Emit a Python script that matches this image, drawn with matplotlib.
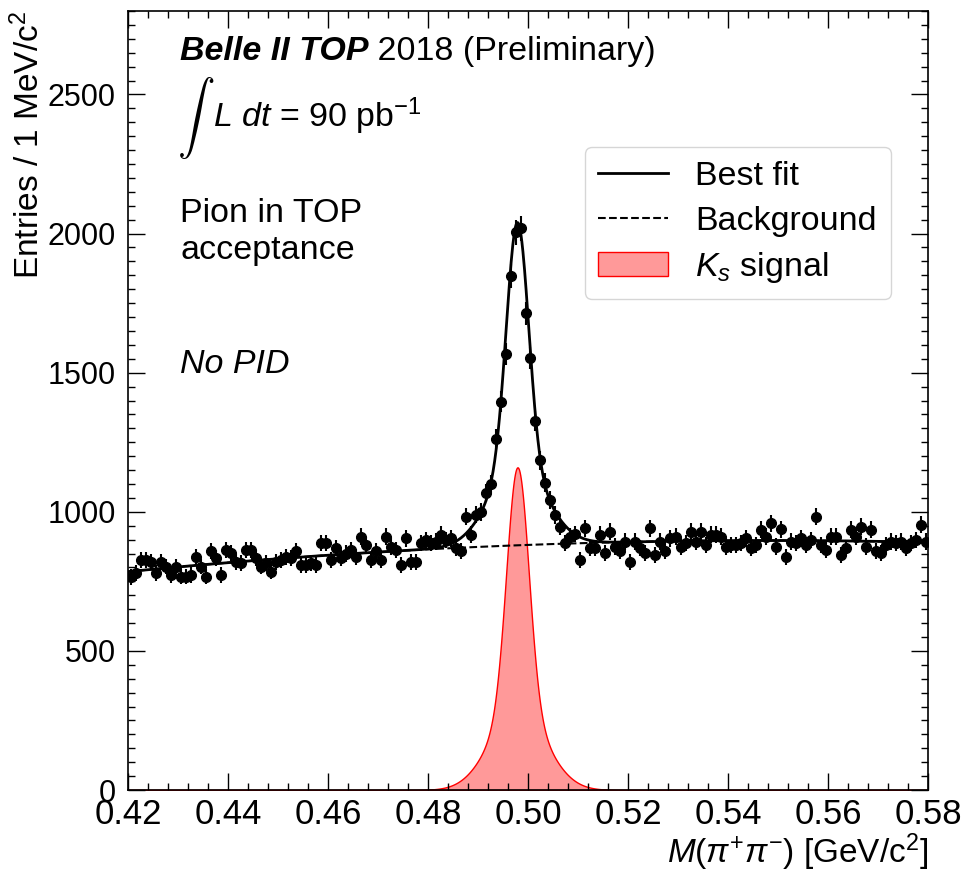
import numpy as np
import matplotlib
matplotlib.use("Agg")
import matplotlib.pyplot as plt

plt.rcParams["font.family"] = ["Liberation Sans", "DejaVu Sans"]
plt.rcParams["mathtext.fontset"] = "custom"
plt.rcParams["mathtext.rm"] = "Liberation Sans"
plt.rcParams["mathtext.it"] = "Liberation Sans:italic"
plt.rcParams["mathtext.bf"] = "Liberation Sans:bold"

# Histogram binning: 1 MeV bins between 0.42 and 0.58 GeV
x_lo, x_hi, bin_w = 0.42, 0.58, 0.001

# Entries per bin (left sideband, peak, right sideband)
left_counts = [766, 780, 827, 827, 821, 780, 821, 803, 773, 803,
               767, 767, 773, 839, 803, 767, 858, 833, 773, 863,
               851, 821, 815, 863, 863, 833, 803, 815, 785, 821,
               827, 839, 833, 858, 809, 809, 815, 809, 888, 888,
               827, 869, 833, 850, 863, 836, 911, 881, 827, 858,
               827, 911, 875, 863, 809, 905, 821, 821, 888, 899,
               888, 893, 917, 899, 905]
peak_counts = [869, 860, 983, 917, 990, 1000, 1067, 1100, 1261, 1395,
               1568, 1847, 2005, 2020, 1714, 1553, 1325, 1185, 1105]
right_counts = [1043, 989, 947, 888, 911, 920, 827, 941, 869, 869,
                917, 851, 929, 875, 858, 893, 821, 893, 869, 851,
                941, 845, 893, 858, 905, 911, 875, 888, 929, 893,
                929, 881, 917, 917,
                911, 875, 881, 881, 888, 905, 869, 881, 935, 911,
                959, 875, 937, 839, 893, 888, 905, 881, 899, 983,
                881, 863, 911, 911, 845, 869, 935, 911, 947, 875,
                935, 858, 851, 881, 893, 888, 893, 869, 888, 899,
                953, 893]

# Fit result (double gaussian signal + quadratic background)
sig_peak = 1160
sig_mean = 0.4979
sig_sigma_core = 0.0022
sig_sigma_tail = 0.0055
sig_tail_frac = 0.25
bkg_x = [0.42, 0.50, 0.58]
bkg_y = [785, 881, 890]

counts = np.array(left_counts + peak_counts + right_counts, dtype=float)
centers = x_lo + bin_w * (np.arange(len(counts)) + 0.5)

x_fit = np.linspace(x_lo, x_hi, 1500)
bkg = np.polyval(np.polyfit(bkg_x, bkg_y, 2), x_fit)
sig = sig_peak * ((1 - sig_tail_frac) * np.exp(-0.5 * ((x_fit - sig_mean) / sig_sigma_core) ** 2)
                  + sig_tail_frac * np.exp(-0.5 * ((x_fit - sig_mean) / sig_sigma_tail) ** 2))

W, H = 964, 875
fig = plt.figure(figsize=(W / 100, H / 100), dpi=100)
ax = fig.add_axes([128 / W, 1 - 790 / H, (928 - 128) / W, (790 - 11) / H])

ax.fill_between(x_fit, 0, sig, facecolor=(1, 0, 0, 0.4), edgecolor="red", lw=1,
                label=r"$K_s$ signal", zorder=1)
ax.plot(x_fit, bkg, "k--", lw=1.5, label="Background", zorder=2)
ax.plot(x_fit, bkg + sig, "k-", lw=2, label="Best fit", zorder=2)
ax.errorbar(centers, counts, yerr=np.sqrt(counts), fmt="o", color="k", ms=7,
            elinewidth=1.5, capsize=0, zorder=3)

ax.set_xlim(x_lo, x_hi)
ax.set_ylim(0, 2800)
ax.set_xticks(np.arange(0.42, 0.5801, 0.02))
ax.set_xticks(np.arange(0.42, 0.5801, 0.004), minor=True)
ax.set_yticks(np.arange(0, 2501, 500))
ax.set_yticks(np.arange(0, 2801, 50), minor=True)
ax.xaxis.set_major_formatter(plt.FormatStrFormatter("%.2f"))
ax.tick_params(which="both", direction="in", top=True, right=True, width=1)
ax.tick_params(which="major", length=12)
ax.tick_params(which="minor", length=5)
ax.tick_params(axis="x", labelsize=25, pad=6)
ax.tick_params(axis="y", labelsize=22, pad=9)
for s in ax.spines.values():
    s.set_linewidth(1.2)

ax.set_xlabel(r"$M(\pi^{+}\pi^{-})$ [GeV/c$^{2}$]", fontsize=24, loc="right", labelpad=0)
ax.set_ylabel(r"Entries / 1 MeV/c$^{2}$", fontsize=24, loc="top", labelpad=1)

handles, labels = ax.get_legend_handles_labels()
order = [labels.index("Best fit"), labels.index("Background"), labels.index(r"$K_s$ signal")]
ax.legend([handles[i] for i in order], [labels[i] for i in order], loc="upper left",
          bbox_to_anchor=(0.571, 0.825), borderaxespad=0, fontsize=24.5,
          handlelength=2.05, handletextpad=0.8, labelspacing=0.4, frameon=True)

t1 = ax.text(0.065, 0.937, "Belle II TOP", transform=ax.transAxes, fontsize=24.5,
             fontweight="bold", fontstyle="italic", va="baseline")
ax.annotate(" 2018 (Preliminary)", xy=(1, 0), xycoords=t1, fontsize=24.5, va="bottom")
ax.text(0.061, 0.8627, r"$\int$", transform=ax.transAxes, fontsize=27,
        math_fontfamily="cm", va="center")
ax.text(0.106, 0.851, r"$L\ dt$ = 90 pb$^{-1}$", transform=ax.transAxes,
        fontsize=24.5, va="baseline")
ax.text(0.065, 0.729, "Pion in TOP", transform=ax.transAxes, fontsize=24.5, va="baseline")
ax.text(0.065, 0.682, "acceptance", transform=ax.transAxes, fontsize=24.5, va="baseline")
ax.text(0.065, 0.535, "No PID", transform=ax.transAxes, fontsize=24.5, va="baseline",
        fontstyle="italic")

fig.savefig("out.png", dpi=100)
